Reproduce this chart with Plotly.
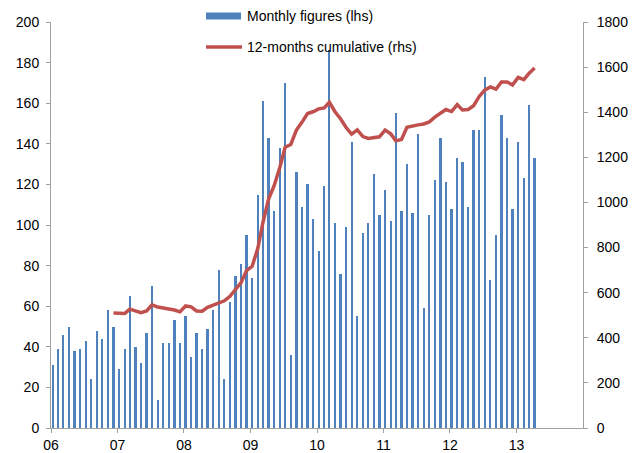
import pandas as pd
import plotly.graph_objects as go

# Monthly figures (lhs), Jan 2006 .. Apr 2013
monthly = [
    31, 39, 46, 50, 38, 39, 43, 24, 48, 44, 58, 50,      # 2006
    29, 39, 65, 40, 32, 47, 70, 14, 42, 42, 53, 42,      # 2007
    55, 35, 47, 39, 49, 58, 78, 24, 62, 75, 81, 95,      # 2008
    74, 115, 161, 143, 107, 138, 170, 36, 126, 109, 120, 103,  # 2009
    87, 119, 186, 101, 76, 99, 141, 55, 96, 101, 125, 105,     # 2010
    117, 102, 155, 107, 130, 106, 145, 59, 105, 122, 143, 121, # 2011
    108, 133, 131, 109, 147, 147, 173, 73, 95, 154, 143, 108,  # 2012
    141, 123, 159, 133,                                  # 2013
]

# 12-months cumulative (rhs), Dec 2006 .. Apr 2013
cum12 = [
    510,
    508, 508, 527, 517, 511, 519, 546, 536, 530, 528, 523, 515,
    541, 537, 519, 518, 535, 546, 554, 564, 584, 617, 645, 698,
    717, 797, 911, 1015, 1073, 1153, 1245, 1257, 1321, 1355, 1394, 1402,
    1415, 1419, 1444, 1402, 1371, 1332, 1303, 1322, 1292, 1284, 1289, 1291,
    1321, 1304, 1273, 1279, 1333, 1340, 1344, 1348, 1357, 1378, 1396, 1412,
    1403, 1434, 1410, 1412, 1429, 1470, 1498, 1512, 1502, 1534, 1534, 1521,
    1554, 1544, 1572, 1596,
]

tick_years = ["2006", "2007", "2008", "2009", "2010", "2011", "2012", "2013"]
tick_labels = ["06", "07", "08", "09", "10", "11", "12", "13"]

months = pd.date_range("2006-01-01", periods=len(monthly), freq="MS") + pd.Timedelta(days=9)
line_x = months[len(monthly) - len(cum12):]

BLUE = "#4F81BD"
RED = "#C0504D"
AXIS = "#A0A0A0"
FONT = "Liberation Sans, Arial, sans-serif"

fig = go.Figure()
fig.add_trace(go.Bar(
    x=months, y=monthly, name="Monthly figures (lhs)",
    marker=dict(color=BLUE, line=dict(width=0)),
    width=12 * 86400000, yaxis="y",
))
fig.add_trace(go.Scatter(
    x=line_x, y=cum12, name="12-months cumulative (rhs)",
    mode="lines", line=dict(color=RED, width=3.5), yaxis="y2",
))

axis_common = dict(showgrid=False, zeroline=False, showline=True, linecolor=AXIS,
                   linewidth=1, ticks="outside", ticklen=4, tickcolor=AXIS,
                   automargin=False,
                   tickfont=dict(family=FONT, size=14, color="#000000"))

# page has an 8px body margin, so the figure is 8px smaller and margins shifted
fig.update_layout(
    width=633, height=445,
    margin=dict(l=43, r=58, t=14, b=25, pad=0),
    paper_bgcolor="white", plot_bgcolor="white",
    showlegend=False,
    bargap=0,
    xaxis=dict(range=["2006-01-01", "2014-01-01"], type="date",
               tickvals=[y + "-01-01" for y in tick_years], ticktext=tick_labels,
               **axis_common),
    yaxis=dict(range=[0, 200], dtick=20, ticklabelstandoff=4, **axis_common),
    yaxis2=dict(range=[0, 1800], dtick=200, overlaying="y", side="right",
                anchor="x", ticklabelstandoff=6, **axis_common),
)

# custom legend (Excel-style); page pixel -> paper coordinates
def py(ypix):
    return (428 - ypix) / 406.0

def px(xpix):
    return (xpix - 51) / 532.0

fig.add_shape(type="rect", xref="paper", yref="paper",
              x0=px(206), x1=px(241), y0=py(19.5), y1=py(12.5),
              fillcolor=BLUE, line=dict(width=0))
fig.add_shape(type="line", xref="paper", yref="paper",
              x0=px(206), x1=px(242), y0=py(47), y1=py(47),
              line=dict(color=RED, width=3.5))
fig.add_annotation(xref="paper", yref="paper", x=px(245), y=py(16),
                   xanchor="left", yanchor="middle", showarrow=False,
                   text="Monthly figures (lhs)",
                   font=dict(family=FONT, size=14, color="#000000"))
fig.add_annotation(xref="paper", yref="paper", x=px(245), y=py(47),
                   xanchor="left", yanchor="middle", showarrow=False,
                   text="12-months cumulative (rhs)",
                   font=dict(family=FONT, size=14, color="#000000"))

fig.write_html("out.html")
